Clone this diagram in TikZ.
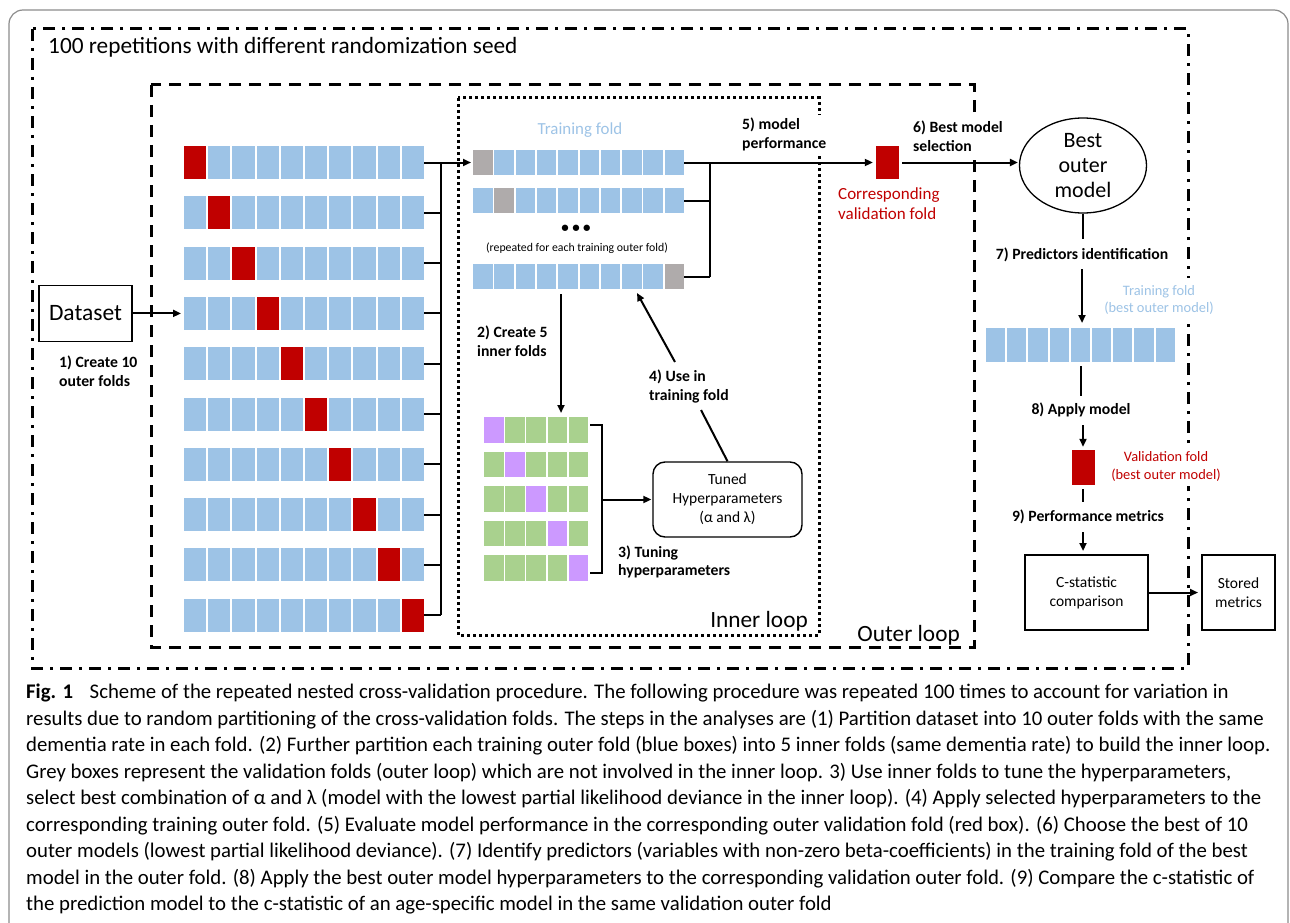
\documentclass[tikz,border=0pt]{standalone}
\usepackage{fontspec}
\setmainfont{Carlito}
\usetikzlibrary{arrows.meta,shapes.geometric}
\definecolor{foldblue}{HTML}{9DC3E6}
\definecolor{foldred}{HTML}{C00000}
\definecolor{foldgray}{HTML}{AFABAB}
\definecolor{foldgreen}{HTML}{A9D18E}
\definecolor{foldpurple}{HTML}{CC99FF}
\definecolor{txtblue}{HTML}{9DC3E6}
\definecolor{txtred}{HTML}{C00000}
\definecolor{framegray}{HTML}{8C8C8C}
\begin{document}
\begin{tikzpicture}[x=1pt,y=-1pt,
  cellA/.style={inner sep=0pt, outer sep=0pt, minimum width=22.2pt, minimum height=33pt, anchor=north west},
  cellB/.style={inner sep=0pt, outer sep=0pt, minimum width=19.5pt, minimum height=25pt, anchor=north west},
  cellC/.style={inner sep=0pt, outer sep=0pt, minimum width=19.5pt, minimum height=25.5pt, anchor=north west},
  cellD/.style={inner sep=0pt, outer sep=0pt, minimum width=19.2pt, minimum height=34pt, anchor=north west},
  conn/.style={line width=2pt, black},
  arr/.style={conn, -{Triangle[length=8pt,width=7pt]}},
  stepfont/.style={font=\fontsize{15.7}{18.8}\selectfont\bfseries, inner sep=0pt},
  knockout/.style={fill=white, inner xsep=2pt, inner ysep=3pt},
  boxfont/.style={font=\fontsize{15.5}{19}\selectfont},
  bigfont/.style={font=\fontsize{23.3}{25}\selectfont, inner sep=0pt},
  capfont/.style={font=\fontsize{20.8}{22}\selectfont, inner sep=0pt, anchor=west},
]
\useasboundingbox (0,0) rectangle (1290,923);
% frames
\draw[framegray, line width=1.2pt, rounded corners=14pt] (9,940) -- (9,10) -- (1288,10) -- (1288,940);
\draw[line width=3pt, dash pattern=on 12pt off 7pt on 3pt off 7pt] (32,29) rectangle (1188,668);
\draw[line width=3pt, dash pattern=on 12pt off 8pt] (151,85) rectangle (974,647);
\draw[line width=3pt, dash pattern=on 3pt off 3pt] (458,98) rectangle (819,635);
\node[bigfont, anchor=west] (title) at (48,47) {100 repetitions with different randomization seed};
\node[bigfont, anchor=east] (outerlbl) at (960,635) {Outer loop};
\node[bigfont, anchor=east] (innerlbl) at (808,621) {Inner loop};

% outer folds
\foreach \r in {1,...,10}{
  \foreach \c in {1,...,10}{
    \ifnum\c=\r \def\cellcol{foldred}\else\def\cellcol{foldblue}\fi
    \node[cellA, fill=\cellcol] (o\r-\c) at ({184+(\c-1)*24.2},{146+(\r-1)*50.3}) {};
  }
}
% inner training folds
\foreach \r/\yy/\g in {1/150/1, 2/188/2, 3/264/10}{
  \foreach \c in {1,...,10}{
    \ifnum\c=\g \def\cellcol{foldgray}\else\def\cellcol{foldblue}\fi
    \node[cellB, fill=\cellcol] (i\r-\c) at ({473+(\c-1)*21.3},\yy) {};
  }
}
% green inner folds
\foreach \r in {1,...,5}{
  \foreach \c in {1,...,5}{
    \ifnum\c=\r \def\cellcol{foldpurple}\else\def\cellcol{foldgreen}\fi
    \node[cellC, fill=\cellcol] (g\r-\c) at ({484+(\c-1)*21.2},{417+(\r-1)*34.5}) {};
  }
}
% best outer training fold
\foreach \c in {1,...,9}{
  \node[cellD, fill=foldblue] (tb-\c) at ({986+(\c-1)*21.2},328) {};
}

% dataset
\node[draw, line width=1.8pt, minimum width=93pt, minimum height=56pt, inner sep=0pt, font=\fontsize{23.5}{23.5}\selectfont] (ds) at (85.5,313.4) {Dataset};
\draw[arr, shorten >=3pt] (ds.east) -- (ds.east -| o4-1.west);
\node[stepfont, align=left, anchor=west] (l1) at (59,371) {1) Create 10\\outer folds};

% outer bus
\coordinate (obus) at (441,0);
\foreach \r in {2,...,10}{\draw[conn] (o\r-10.east) -- (o\r-10.east -| obus);}
\draw[conn] (o1-10.east -| obus) -- (o10-10.east -| obus);
\draw[arr, shorten >=2pt] (o1-10.east) -- (i1-1.west);

% inner area texts
\node[font=\fontsize{16.9}{19}\selectfont, text=txtblue, inner sep=0pt] (trlbl) at (580,130) {Training fold};
\node[font=\fontsize{15}{15}\selectfont\bfseries, inner sep=0pt] (dots) at (576,229) {• • •};
\node[font=\fontsize{11.8}{13}\selectfont, inner sep=0pt] (rep) at (577,248) {(repeated for each training outer fold)};

% inner bus
\coordinate (ibus) at (710,0);
\draw[conn] (i2-10.east) -- (i2-10.east -| ibus);
\draw[conn] (i3-10.east) -- (i3-10.east -| ibus);
\draw[conn] (i1-10.east -| ibus) -- (i3-10.east -| ibus);
\node[fill=foldred, inner sep=0pt, minimum width=23pt, minimum height=33pt] (val) at (887.5,162.5) {};
\draw[arr, shorten >=3pt] (i1-10.east) -- (val.west);
\node[stepfont, knockout, align=left, anchor=west] (l5) at (740,134.5) {5) model\\performance};
\node[font=\fontsize{17}{20}\selectfont, text=txtred, inner sep=0pt, align=left, anchor=west] (corr) at (838,204) {Corresponding\\validation fold};

% best outer model
\node[draw, ellipse, line width=1.3pt, minimum width=127pt, minimum height=95pt, inner sep=0pt, align=center, font=\fontsize{22}{25}\selectfont] (best) at (1083,165.5) {Best\\outer\\model};
\draw[arr, shorten <=3pt, shorten >=1pt] (val.east) -- (val.east -| best.west);
\node[stepfont, knockout, align=left, anchor=west] (l6) at (911,136.5) {6) Best model\\selection};

% step 2 and inner folds
\coordinate (c2a) at (561,294);
\draw[arr, shorten >=4pt] (c2a) -- (c2a |- g1-4.north);
\node[stepfont, align=left, anchor=west] (l2) at (477,341) {2) Create 5\\inner folds};

% bracket and tuned
\node[draw, line width=1.4pt, rounded corners=12pt, minimum width=149pt, minimum height=75pt, inner sep=0pt, align=center, boxfont] (tuned) at (727.5,499.5) {Tuned\\Hyperparameters\\(α and λ)};
\coordinate (brt) at (602,425);
\coordinate (brb) at (602,573);
\draw[conn] ([xshift=2pt]g1-5.east |- brt) -- (brt) -- (brb) -- ([xshift=2pt]g5-5.east |- brb);
\draw[arr, shorten >=1pt] (brt |- tuned.west) -- (tuned.west);
\node[stepfont, align=left, anchor=west] (l3) at (618,562) {3) Tuning\\hyperparameters};

% step 4
\coordinate (c4a) at (701,410);
\coordinate (c4b) at (675,362);
\coordinate (c4tip) at (637,293);
\draw[conn] (tuned.north) -- (c4a);
\draw[arr] (c4b) -- (c4tip);
\node[stepfont, align=left, anchor=west] (l4) at (649,386.5) {4) Use in\\training fold};

% step 7
\coordinate (c7a) at (1083,239);
\coordinate (c7b) at (1082,269);
\draw[conn] (best.south) -- (c7a);
\node[stepfont] (l7) at (1082,255) {7) Predictors identification};
\draw[arr, shorten >=5pt] (c7b) -- (c7b |- tb-5.north);
\node[font=\fontsize{14.4}{17}\selectfont, text=txtblue, fill=white, inner xsep=2pt, inner ysep=7pt, align=center] (trbest) at (1159,299.5) {Training fold\\(best outer model)};

% step 8
\coordinate (c8a) at (1081,396);
\coordinate (c8b) at (1083,425);
\draw[conn, shorten <=4pt] (tb-5.south -| c8a) -- (c8a);
\node[stepfont] (l8) at (1081,410) {8) Apply model};
\node[fill=foldred, inner sep=0pt, minimum width=23pt, minimum height=35pt] (vb) at (1083.5,467.5) {};
\draw[arr, shorten >=3pt] (c8b) -- (c8b |- vb.north);
\node[font=\fontsize{14.4}{18}\selectfont, text=txtred, fill=white, inner xsep=2pt, inner ysep=5pt, align=center] (valbest) at (1166,466) {Validation fold\\(best outer model)};

% step 9
\coordinate (c9a) at (1083,502);
\coordinate (c9b) at (1083,532);
\draw[conn, shorten <=4pt] (vb.south -| c9a) -- (c9a);
\node[stepfont] (l9) at (1088,517) {9) Performance metrics};
\node[draw, line width=2pt, minimum width=123pt, minimum height=75pt, inner sep=0pt, align=center, boxfont] (cs) at (1086.5,592.5) {C-statistic\\comparison};
\draw[arr, shorten >=3pt] (c9b) -- (c9b |- cs.north);
\node[draw, line width=2pt, minimum width=73pt, minimum height=75pt, inner sep=0pt, align=center, boxfont] (sm) at (1238.5,592.5) {Stored\\metrics};
\draw[arr, shorten >=3pt] (cs.east) -- (sm.west);

% caption
\node[capfont] (cap1) at (26,693) {\textbf{Fig. 1}\hspace{0.8em}Scheme of the repeated nested cross-validation procedure. The following procedure was repeated 100 times to account for variation in};
\node[capfont] (cap2) at (26,719.5) {results due to random partitioning of the cross-validation folds. The steps in the analyses are (1) Partition dataset into 10 outer folds with the same};
\node[capfont] (cap3) at (26,746) {dementia rate in each fold. (2) Further partition each training outer fold (blue boxes) into 5 inner folds (same dementia rate) to build the inner loop.};
\node[capfont] (cap4) at (26,772.5) {Grey boxes represent the validation folds (outer loop) which are not involved in the inner loop. 3) Use inner folds to tune the hyperparameters,};
\node[capfont] (cap5) at (26,799) {select best combination of α and λ (model with the lowest partial likelihood deviance in the inner loop). (4) Apply selected hyperparameters to the};
\node[capfont] (cap6) at (26,825.5) {corresponding training outer fold. (5) Evaluate model performance in the corresponding outer validation fold (red box). (6) Choose the best of 10};
\node[capfont] (cap7) at (26,852) {outer models (lowest partial likelihood deviance). (7) Identify predictors (variables with non-zero beta-coefficients) in the training fold of the best};
\node[capfont] (cap8) at (26,878.5) {model in the outer fold. (8) Apply the best outer model hyperparameters to the corresponding validation outer fold. (9) Compare the c-statistic of};
\node[capfont] (cap9) at (26,905) {the prediction model to the c-statistic of an age-specific model in the same validation outer fold};
\end{tikzpicture}
\end{document}
